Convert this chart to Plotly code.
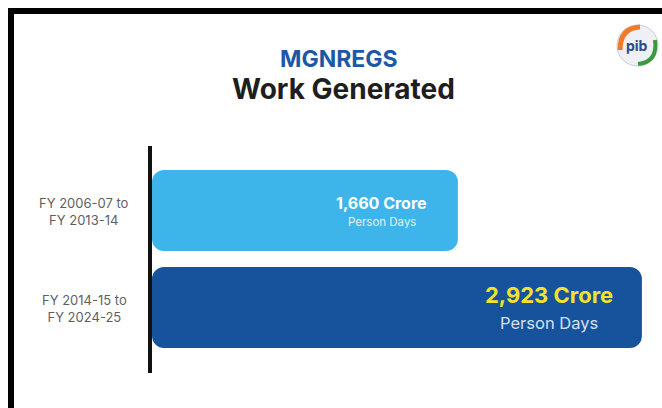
import plotly.graph_objects as go

# ---- data ----
periods = ["FY 2006-07 to<br>FY 2013-14", "FY 2014-15 to<br>FY 2024-25"]
work_crore = [1660, 2923]
unit_label = "Person Days"
title_top = "MGNREGS"
title_main = "Work Generated"

# ---- layout geometry ----
W, H = 662, 408
ML, MR, MT, MB = 152, 0, 146, 35
PW, PH = W - ML - MR, H - MT - MB
axis_start = -440
axis_end = 3061


def px(x):
    return (x - ML) / PW


def py(y):
    return (H - MB - y) / PH


bar_colors = ["#3DB5EA", "#17539D"]
value_colors = ["#FFFFFF", "#F3E22B"]
sub_colors = ["#E3F2FB", "#D5E0EE"]
value_sizes = [16, 22]
sub_sizes = [11.5, 16.5]
value_dx = [-76, -93]
value_dy = [7.5, 12.5]
sub_dy = [-11.5, -15]

FONT = "Inter"

fig = go.Figure()
fig.add_trace(go.Bar(
    y=periods,
    x=[v - axis_start for v in work_crore],
    base=axis_start,
    orientation="h",
    marker=dict(color=bar_colors, line=dict(width=0)),
    hoverinfo="skip",
    showlegend=False,
))

annotations = []
for i, (p, v) in enumerate(zip(periods, work_crore)):
    annotations.append(dict(
        x=v, y=p, xref="x", yref="y", xshift=value_dx[i], yshift=value_dy[i],
        text=f"<b>{v:,} Crore</b>", showarrow=False, xanchor="center", yanchor="middle",
        font=dict(family=FONT, size=value_sizes[i], color=value_colors[i]),
    ))
    annotations.append(dict(
        x=v, y=p, xref="x", yref="y", xshift=value_dx[i], yshift=sub_dy[i],
        text=unit_label, showarrow=False, xanchor="center", yanchor="middle",
        font=dict(family=FONT, size=sub_sizes[i], color=sub_colors[i]),
    ))
    annotations.append(dict(
        x=px(84), y=p, xref="paper", yref="y", yshift=-1,
        text=p, showarrow=False, xanchor="center", yanchor="middle", align="center",
        font=dict(family=FONT, size=13, color="#5f5f5f"),
    ))

annotations.append(dict(
    x=px(339), y=py(59), xref="paper", yref="paper", text=f"<b>{title_top}</b>",
    showarrow=False, xanchor="center", yanchor="middle", borderpad=0,
    font=dict(family=FONT, size=23, color="#1B59A6"),
))
annotations.append(dict(
    x=px(343), y=py(89), xref="paper", yref="paper", text=f"<b>{title_main}</b>",
    showarrow=False, xanchor="center", yanchor="middle", borderpad=0,
    font=dict(family=FONT, size=28, color="#1E1E1E"),
))
# logo text
annotations.append(dict(
    x=px(637), y=py(45), xref="paper", yref="paper", text="<b>pib</b>",
    showarrow=False, xanchor="center", yanchor="middle",
    font=dict(family=FONT, size=14, color="#2B4C8C"),
))

shapes = [
    # frame
    dict(type="rect", xref="paper", yref="paper", x0=px(8), x1=px(662), y0=py(14), y1=py(8),
         fillcolor="#000000", line=dict(width=0), layer="above"),
    dict(type="rect", xref="paper", yref="paper", x0=px(8), x1=px(14), y0=py(408), y1=py(8),
         fillcolor="#000000", line=dict(width=0), layer="above"),
    # logo
    dict(type="circle", xref="paper", yref="paper", x0=px(617), x1=px(658), y0=py(66), y1=py(25),
         fillcolor="#EEF0F4", line=dict(color="#C9CED8", width=1)),
    dict(type="path", xref="paper", yref="paper",
         path=f"M {px(620)},{py(50)} Q {px(620)},{py(28)} {px(640)},{py(27)}",
         line=dict(color="#EE7A2B", width=5)),
    dict(type="path", xref="paper", yref="paper",
         path=f"M {px(655)},{py(40)} Q {px(658)},{py(62)} {px(638)},{py(64)}",
         line=dict(color="#3B9A3E", width=4)),
]

fig.update_layout(
    width=W, height=H,
    margin=dict(l=ML, r=MR, t=MT, b=MB),
    paper_bgcolor="#FFFFFF", plot_bgcolor="#FFFFFF",
    barcornerradius=12,
    bargap=0.165,
    xaxis=dict(range=[axis_start, axis_end], visible=False, fixedrange=True),
    yaxis=dict(range=[1.675, -0.665], showticklabels=False, showgrid=False, zeroline=False,
               showline=True, linecolor="#111111", linewidth=4, ticks="", fixedrange=True),
    annotations=annotations,
    shapes=shapes,
    showlegend=False,
    font=dict(family=FONT),
)

fig.write_html("out.html", config={"displayModeBar": False, "staticPlot": True})

# remove the default page margin so the figure sits at the window's top-left corner
with open("out.html", encoding="utf-8") as f:
    html = f.read()
html = html.replace("<body>", '<body style="margin:0;overflow:hidden">', 1)
with open("out.html", "w", encoding="utf-8") as f:
    f.write(html)
